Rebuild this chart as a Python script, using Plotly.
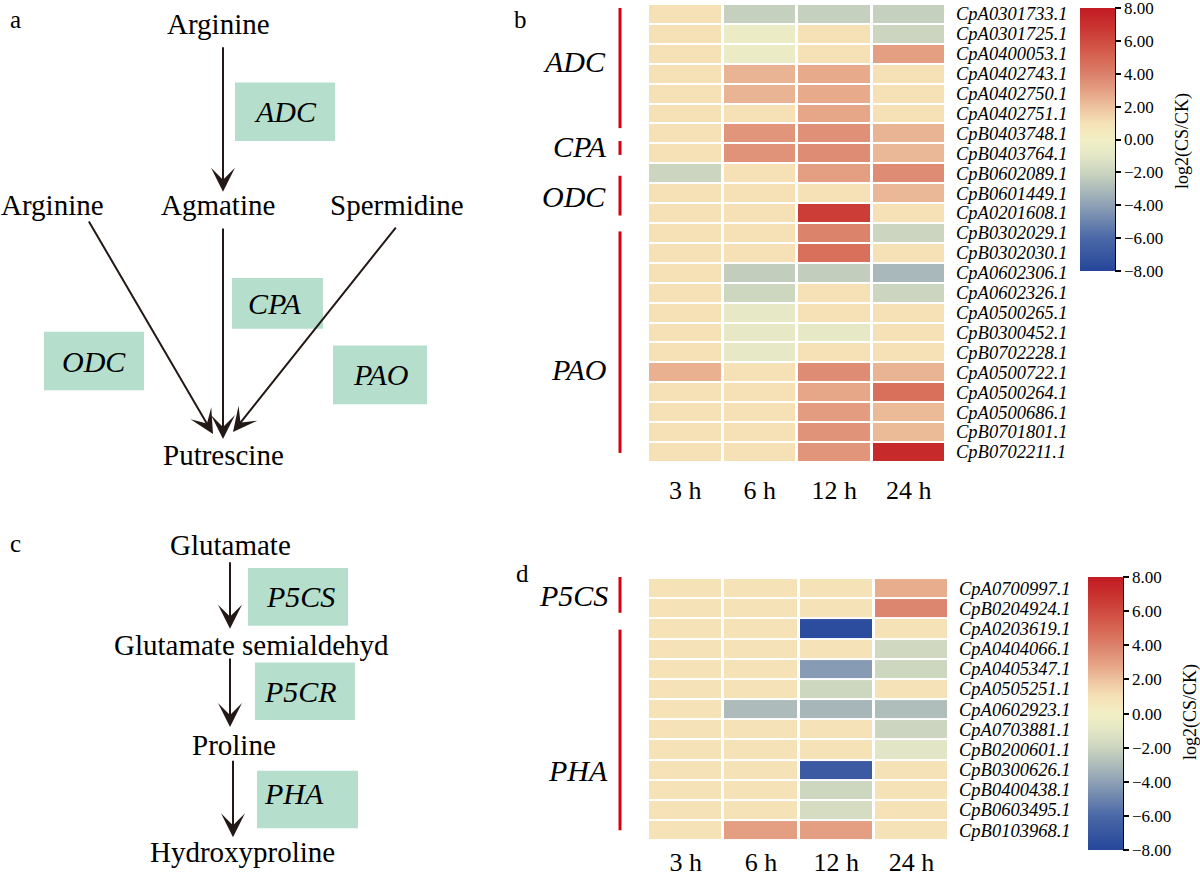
import plotly.graph_objects as go

W, H = 1200, 877
FONT = "Liberation Serif"
INK = "#231815"

# ---------------- data ----------------
times = ["3 h", "6 h", "12 h", "24 h"]

genes_b = ["CpA0301733.1", "CpA0301725.1", "CpA0400053.1", "CpA0402743.1", "CpA0402750.1",
           "CpA0402751.1", "CpB0403748.1", "CpB0403764.1", "CpB0602089.1", "CpB0601449.1",
           "CpA0201608.1", "CpB0302029.1", "CpB0302030.1", "CpA0602306.1", "CpA0602326.1",
           "CpA0500265.1", "CpB0300452.1", "CpB0702228.1", "CpA0500722.1", "CpA0500264.1",
           "CpA0500686.1", "CpB0701801.1", "CpB0702211.1"]
b_3h = [1.0, 1.0, 1.0, 1.0, 1.0, 1.0, 1.0, 1.0, -2.0, 1.0, 1.0, 1.0, 1.0, 1.0, 1.0,
        1.0, 1.0, 1.0, 2.5, 1.0, 1.0, 1.0, 1.0]
b_6h = [-2.2, -0.5, -0.5, 2.4, 2.4, 1.0, 3.3, 3.4, 1.0, 1.0, 1.0, 1.0, 1.0, -2.3, -1.9,
        -0.8, -0.8, -0.8, 1.0, 1.0, 1.0, 1.0, 1.0]
b_12h = [-2.2, 1.0, 1.0, 2.7, 2.7, 2.8, 3.5, 3.6, 3.0, 1.0, 6.5, 3.9, 4.6, -2.3, 1.0,
         1.0, -0.8, 1.0, 3.6, 2.8, 3.1, 3.4, 3.3]
b_24h = [-2.2, -2.0, 3.0, 1.0, 1.0, 1.0, 2.4, 2.3, 3.6, 2.3, 1.0, -2.0, 1.0, -3.1, -2.0,
         1.0, 1.0, 1.0, 2.4, 4.6, 2.2, 2.2, 7.3]

genes_d = ["CpA0700997.1", "CpB0204924.1", "CpA0203619.1", "CpA0404066.1", "CpA0405347.1",
           "CpA0505251.1", "CpA0602923.1", "CpA0703881.1", "CpB0200601.1", "CpB0300626.1",
           "CpB0400438.1", "CpB0603495.1", "CpB0103968.1"]
d_3h = [0.9, 0.9, 0.9, 0.9, 0.9, 0.9, 0.9, 0.9, 0.9, 0.9, 0.9, 0.9, 0.9]
d_6h = [0.9, 0.9, 0.9, 0.9, 0.9, 0.9, -3.0, 0.9, 0.9, 0.9, 0.9, 0.9, 3.0]
d_12h = [0.9, 0.9, -7.6, 0.9, -4.2, -1.9, -3.2, 0.9, 0.9, -6.8, -1.9, -1.6, 3.0]
d_24h = [2.6, 3.8, 0.9, -1.8, -1.9, 0.9, -2.9, -2.0, -1.0, 0.9, 0.9, 0.9, 0.9]

cbar_ticks = [-8, -6, -4, -2, 0, 2, 4, 6, 8]

color_stops = [(-8, "#25469a"), (-6, "#4a68a7"), (-4, "#8ea1b5"), (-2, "#cbd5bf"),
               (-1, "#e3e6c6"), (0, "#f2efc5"), (1, "#f5e1b5"), (2, "#edc29e"),
               (3, "#e49f82"), (4, "#db806a"), (5, "#d66552"), (6, "#cf4a40"),
               (7, "#c9302e"), (8, "#c11b23")]
colorscale = [[(v + 8) / 16, c] for v, c in color_stops]
ZMIN, ZMAX = -8.001, 8.001


def px(x):
    return x / W


def py(y):
    return 1 - y / H


z_b = [[b_3h[i], b_6h[i], b_12h[i], b_24h[i]] for i in range(len(genes_b))]
z_d = [[d_3h[i], d_6h[i], d_12h[i], d_24h[i]] for i in range(len(genes_d))]

cb_common = dict(
    thickness=35, thicknessmode="pixels", lenmode="pixels", xanchor="left",
    xpad=0, ypad=0, outlinewidth=0, ticks="outside", ticklen=6, tickwidth=1.5,
    tickcolor="black", tickmode="array", tickvals=cbar_ticks, tickformat=".2f",
    ticklabeloverflow="allow",
    tickfont=dict(family=FONT, size=17, color="black"),
)

fig = go.Figure()
fig.add_trace(go.Heatmap(
    x=times, y=genes_b, z=z_b, zmin=ZMIN, zmax=ZMAX, colorscale=colorscale,
    xgap=3, ygap=2, xaxis="x", yaxis="y",
    colorbar=dict(cb_common, x=px(1080), y=py(140.5), yanchor="middle", len=263),
))
fig.add_trace(go.Heatmap(
    x=times, y=genes_d, z=z_d, zmin=ZMIN, zmax=ZMAX, colorscale=colorscale,
    xgap=3, ygap=2, xaxis="x2", yaxis="y2",
    colorbar=dict(cb_common, x=px(1088), y=py(718.5), yanchor="middle", len=273),
))

xa = dict(showgrid=False, zeroline=False, ticks="", showline=False,
          tickfont=dict(family=FONT, size=26, color="black"))
ya = dict(showgrid=False, zeroline=False, ticks="", showline=False, side="right",
          autorange="reversed", ticklabelstandoff=9, tickmode="array",
          tickfont=dict(family=FONT, size=18.5, color="black", style="italic"))

fig.update_layout(
    width=W, height=H, margin=dict(l=0, r=0, t=0, b=0),
    paper_bgcolor="white", plot_bgcolor="white", showlegend=False,
    xaxis=dict(xa, domain=[px(648), px(946)], anchor="y", ticklabelstandoff=10),
    yaxis=dict(ya, domain=[py(465), py(4)], anchor="x",
               tickvals=genes_b, ticktext=genes_b),
    xaxis2=dict(xa, domain=[px(648), px(949)], anchor="y2", ticklabelstandoff=4),
    yaxis2=dict(ya, domain=[py(846), py(582)], anchor="x2",
                tickvals=genes_d, ticktext=genes_d),
)

shapes = []
annotations = []


def text(x, y, s, size=29, italic=False, xanchor="center"):
    annotations.append(dict(
        x=px(x), y=py(y), xref="paper", yref="paper", text=s, showarrow=False,
        xanchor=xanchor, yanchor="middle",
        font=dict(family=FONT, size=size, color="black",
                  style="italic" if italic else "normal")))


def box(x0, y0, x1, y1, label, tx=None, ty=None, xanchor="center"):
    shapes.append(dict(type="rect", xref="paper", yref="paper",
                       x0=px(x0), x1=px(x1), y0=py(y1), y1=py(y0),
                       fillcolor="#b5dfcc", line=dict(width=0), layer="below"))
    cx = (x0 + x1) / 2 if tx is None else tx
    cy = (y0 + y1) / 2 if ty is None else ty
    text(cx, cy, label, size=30, italic=True, xanchor=xanchor)


def arrow(tail, tip):
    annotations.append(dict(
        x=px(tip[0]), y=py(tip[1]), xref="paper", yref="paper",
        ax=tail[0] - tip[0], ay=tail[1] - tip[1], axref="pixel", ayref="pixel",
        text="", showarrow=True, arrowhead=3, arrowsize=2.0, arrowwidth=2,
        arrowcolor=INK, standoff=0, startstandoff=0))


def red_line(x, y0, y1):
    shapes.append(dict(type="line", xref="paper", yref="paper",
                       x0=px(x), x1=px(x), y0=py(y0), y1=py(y1),
                       line=dict(color="#d7000f", width=3)))


# ---- panel a ----
text(15, 20, "a", size=25)
text(218, 24, "Arginine")
text(52, 206, "Arginine")
text(218, 206, "Agmatine")
text(397, 206, "Spermidine")
text(223, 458, "Putrescine")
box(235, 83, 335, 142, "ADC")
box(232, 280, 323, 331, "CPA", tx=274)
box(44, 334, 144, 393, "ODC")
box(333, 348, 427, 407, "PAO")
arrow((223, 47), (223, 193))
arrow((88, 223), (213, 437))
arrow((223, 230), (223, 442))
arrow((397, 229), (233, 435))

# ---- panel c ----
text(15, 547, "c", size=25)
text(230, 549, "Glutamate")
text(251, 649, "Glutamate semialdehyd")
text(234, 750, "Proline")
text(242, 858, "Hydroxyproline")
box(248, 572, 348, 630, "P5CS", tx=300)
box(255, 667, 355, 725, "P5CR", tx=300)
box(257, 776, 358, 834, "PHA", tx=262, ty=799, xanchor="left")
arrow((230, 565), (230, 633))
arrow((230, 662), (230, 732))
arrow((233, 765), (233, 843))

# ---- panel b / d labels and group bars ----
text(520, 20, "b", size=25)
text(522, 577, "d", size=25)
for lab, yc in [("ADC", 62), ("CPA", 148), ("ODC", 198), ("PAO", 372)]:
    text(608, yc, lab, size=30, italic=True, xanchor="right")
for lab, yc in [("P5CS", 600), ("PHA", 776)]:
    text(610, yc, lab, size=30, italic=True, xanchor="right")
red_line(620, 8, 129)
red_line(620, 142, 156)
red_line(620, 177, 217)
red_line(620, 233, 456)
red_line(620, 581, 617)
red_line(620, 634, 836)

# colorbar axis lines and titles
for x, y0, y1 in [(1115, 9, 272), (1123, 582, 855)]:
    shapes.append(dict(type="line", xref="paper", yref="paper", x0=px(x), x1=px(x),
                       y0=py(y0), y1=py(y1), line=dict(color="black", width=2)))
for x, y in [(1182, 142), (1190, 717)]:
    annotations.append(dict(x=px(x), y=py(y), xref="paper", yref="paper",
                            text="log2(CS/CK)", showarrow=False, textangle=-90,
                            xanchor="center", yanchor="middle",
                            font=dict(family=FONT, size=18, color="black")))

fig.update_layout(shapes=shapes, annotations=annotations)
fig.write_html("out.html", config={"displayModeBar": False},
               post_script="document.body.style.margin='0px';document.body.style.overflow='hidden';")
